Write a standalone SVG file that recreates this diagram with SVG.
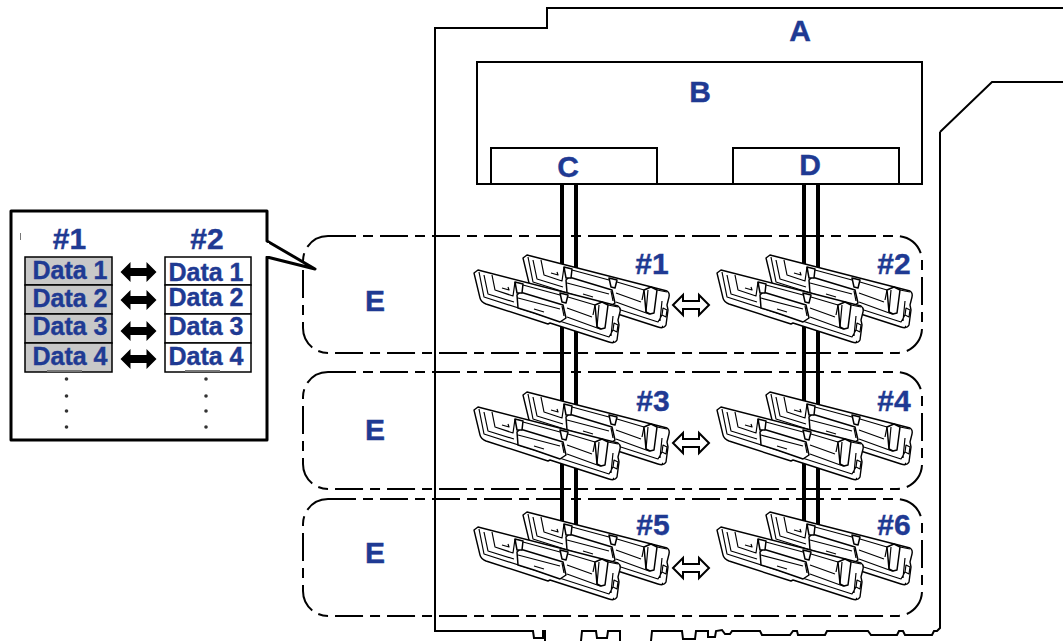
<svg xmlns="http://www.w3.org/2000/svg" xmlns:xlink="http://www.w3.org/1999/xlink" width="1063" height="641" viewBox="0 0 1063 641">
<style>
text{font-family:"Liberation Sans",Arial,sans-serif;font-weight:bold;fill:#1f3a93;stroke:#1f3a93;stroke-width:.4;text-anchor:middle}
.big{font-size:30px}
.data{font-size:25px}
.line{fill:none;stroke:#000;stroke-width:2}
.box{fill:#fff;stroke:#000;stroke-width:2}
.cable{fill:none;stroke:#000;stroke-width:4}
.zone{fill:none;stroke:#000;stroke-width:2;stroke-dasharray:28 7 10 7}
.cell1{fill:#c8c8c8;stroke:#000;stroke-width:1.5}
.cell2{fill:#fff;stroke:#000;stroke-width:1.5}
.hollow{fill:#fff;stroke:#000;stroke-width:2}
.dot{fill:#333}
.dimm-o{fill:#fff;stroke:#000;stroke-width:1.4;stroke-linejoin:round}
.dimm-i{fill:none;stroke:#000;stroke-width:1.2;stroke-linejoin:round}
.dimm-c{fill:#fff;stroke:#000;stroke-width:1.5;stroke-linejoin:round}
</style>
<defs>
<g id="dimm">
<path class="dimm-o" d="M0,3 L4,0 L144,36 Q147,38 146,42 L144,50 L145,55 L143,70 Q141,74 135,72 L76,53 L74,54 L12,34 Q7,32 6,28 Z"/>
<path class="dimm-i" d="M5,2 L10,27 L76,48 M10,5 L14,24 L40,32 M18,5 L21,20 L39,26 L41,12 M28,18 L35,20 L34,17 M76,48 L135,67 L139,60 M139,46 L137,66"/>
<path class="dimm-c" d="M43,25 L44,38 L60,43 L86,52 L92,48 L89,35 L46,22 Z"/>
<path class="dimm-i" d="M60,39 L70,42 M88,36 L90,46 M44,28 L86,39"/>
<path class="dimm-c" d="M41,12 L49,14 L48,23 L43,23 Z"/>
<path class="dimm-i" d="M49,15 L86,25"/>
<path class="dimm-c" d="M86,23 L94,25 L92,33 L88,32 Z"/>
<path class="dimm-i" d="M94,27 L121,35 L119,45 M93,38 L118,47 M93,47 L126,59 L130,58 L133,38 M134,35 L144,37"/>
<path class="dimm-c" d="M121,35 L128,32 L134,35 L131,58 L127,59 L123,57 Z"/>
<path class="dimm-i" d="M125,35 L123,57 M140,53 L144,55 L143,62 L139,60 Z M139,71 L140,72"/>
</g>
<g id="pair">
<use xlink:href="#dimm" href="#dimm" x="49" y="-15"/>
<use xlink:href="#dimm" href="#dimm" x="0" y="0"/>
</g>
<path id="solid" d="M-18,0 L-8,-10 L-8,-4 L8,-4 L8,-10 L18,0 L8,10 L8,4 L-8,4 L-8,10 Z"/>
</defs>

<g id="board-a">
<path class="line" d="M940,132 L940,628 L937,631 L934,631 L932,635 L905,635 L903,631 L899,631 L897,635 L871,635 L868,631 L827,631 L825,635 L798,635 L797,631 L793,631 L790,635 L762,635 L760,631 L732,631 L730,634 L725,634 L722,630 L716,631 L715,637 L708,637 L708,631 L696,631 L695,639 L683,639 L682,631 L652,631 L651,641 M620,641 L620,631 L608,631 L607,638 L597,638 L596,631 L582,631 L581,641 M545,641 L545,631 L543,631 L543,638 L534,638 L533,631 L435,631 L435,28 L547,28 L547,8 L1063,8 M1063,82 L992,82 L940,132"/>
<text class="big" x="800" y="41">A</text>
</g>
<g id="node-b">
<path class="box" d="M477,184 L477,62 L922,62 L922,184 Z"/>
<text class="big" x="700" y="102">B</text>
</g>
<g id="connectors">
<path class="cable" d="M562,184 V540 M576,184 V540 M804,184 V540 M818,184 V540"/>
</g>
<g id="node-c">
<rect class="box" x="491" y="148" width="166" height="36"/>
<text class="big" x="568" y="177">C</text>
</g>
<g id="node-d">
<rect class="box" x="733" y="148" width="166" height="36"/>
<text class="big" x="810" y="175">D</text>
</g>
<g id="zone-1">
<rect class="zone" x="303" y="236" width="619" height="117" rx="25"/>
<text class="big" x="375" y="311">E</text>
</g>
<g id="zone-2">
<rect class="zone" x="303" y="372" width="619" height="117" rx="25"/>
<text class="big" x="375" y="440">E</text>
</g>
<g id="zone-3">
<rect class="zone" x="303" y="499" width="619" height="117" rx="25"/>
<text class="big" x="375" y="563">E</text>
</g>
<g id="dimm-1"><use xlink:href="#pair" href="#pair" x="474" y="270"/><text class="big" x="652" y="274">#1</text></g>
<g id="dimm-2"><use xlink:href="#pair" href="#pair" x="717" y="270"/><text class="big" x="894" y="274">#2</text></g>
<g id="dimm-3"><use xlink:href="#pair" href="#pair" x="474" y="407"/><text class="big" x="653" y="411">#3</text></g>
<g id="dimm-4"><use xlink:href="#pair" href="#pair" x="717" y="407"/><text class="big" x="894" y="411">#4</text></g>
<g id="dimm-5"><use xlink:href="#pair" href="#pair" x="474" y="527"/><text class="big" x="653" y="535">#5</text></g>
<g id="dimm-6"><use xlink:href="#pair" href="#pair" x="717" y="527"/><text class="big" x="894" y="535">#6</text></g>
<g id="mirror-arrows">
<use xlink:href="#solid" href="#solid" class="hollow" x="691" y="305"/>
<use xlink:href="#solid" href="#solid" class="hollow" x="691" y="443"/>
<use xlink:href="#solid" href="#solid" class="hollow" x="691" y="568"/>
</g>
<g id="callout">
<path d="M267,241 L315,269 L267,257 L267,440 L11,440 L11,211 L267,211 Z" fill="#fff" stroke="#000" stroke-width="3" stroke-linejoin="round"/>
<path d="M267,243 V256" stroke="#fff" stroke-width="4"/>
<path d="M20.500,233 V240" stroke="#777" stroke-width="1"/>
<text class="big" x="69.500" y="249">#1</text>
<text class="big" x="207" y="249">#2</text>
</g>
<g id="stack-1">
<rect class="cell1" x="25" y="257" width="87" height="28"/>
<rect class="cell1" x="25" y="285" width="87" height="29"/>
<rect class="cell1" x="25" y="314" width="87" height="29"/>
<rect class="cell1" x="25" y="343" width="87" height="29"/>
<text class="data" x="70" y="279">Data 1</text>
<text class="data" x="70" y="307">Data 2</text>
<text class="data" x="70" y="335">Data 3</text>
<text class="data" x="70" y="365">Data 4</text>
<path d="M47,371 H82" stroke="#777" stroke-width="2"/>
<circle class="dot" cx="66.500" cy="379" r="1.800"/><circle class="dot" cx="66.500" cy="396" r="1.800"/><circle class="dot" cx="66.500" cy="411" r="1.800"/><circle class="dot" cx="66.500" cy="427" r="1.800"/>
</g>
<g id="stack-2">
<rect class="cell2" x="165" y="257" width="86" height="28"/>
<rect class="cell2" x="165" y="285" width="86" height="29"/>
<rect class="cell2" x="165" y="314" width="86" height="29"/>
<rect class="cell2" x="165" y="343" width="86" height="29"/>
<text class="data" x="206" y="281">Data 1</text>
<text class="data" x="206" y="306">Data 2</text>
<text class="data" x="206" y="335">Data 3</text>
<text class="data" x="206" y="365">Data 4</text>
<path d="M185,371 H220" stroke="#777" stroke-width="2"/>
<circle class="dot" cx="206" cy="379" r="1.800"/><circle class="dot" cx="206" cy="396" r="1.800"/><circle class="dot" cx="206" cy="411" r="1.800"/><circle class="dot" cx="206" cy="427" r="1.800"/>
</g>
<g id="data-arrows">
<use xlink:href="#solid" href="#solid" x="138.500" y="272"/>
<use xlink:href="#solid" href="#solid" x="138.500" y="300"/>
<use xlink:href="#solid" href="#solid" x="138.500" y="331"/>
<use xlink:href="#solid" href="#solid" x="138.500" y="359"/>
</g>
</svg>
